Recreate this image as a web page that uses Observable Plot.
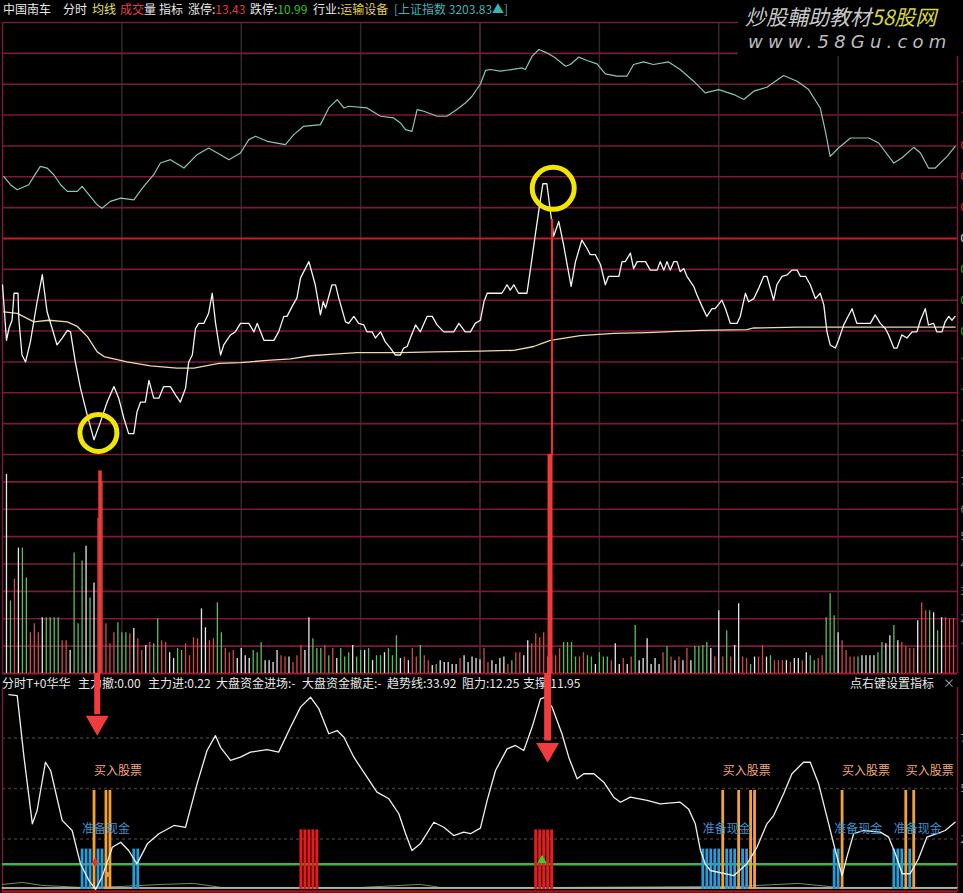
<!DOCTYPE html>
<html><head><meta charset="utf-8">
<script src="https://cdn.jsdelivr.net/npm/d3@7"></script>
<script src="https://cdn.jsdelivr.net/npm/@observablehq/plot@0.6"></script>
<style>
html,body{margin:0;padding:0;background:#000;overflow:hidden;}
#root{position:relative;width:963px;height:893px;background:#000;overflow:hidden;font-family:"Noto Sans CJK SC","Noto Sans",sans-serif;}
.abs{position:absolute;}
.hd{position:absolute;top:1px;font-size:12px;line-height:16px;white-space:pre;color:#e8e8e8;}
.ih{position:absolute;top:675px;font-size:12px;line-height:16px;white-space:pre;color:#e8e8e8;}
#wm{position:absolute;left:738px;top:0;width:225px;height:56px;background:#000;z-index:20;}
#wm1{position:absolute;left:7px;top:3px;font-size:21px;line-height:26px;font-style:italic;color:#c8c8c8;white-space:pre;}
#wm2{position:absolute;left:10px;top:31px;font-size:18px;line-height:22px;font-style:italic;color:#bcbcbc;letter-spacing:5.2px;white-space:pre;font-family:"DejaVu Sans",sans-serif;}
</style></head>
<body><div id="root">
<div class="hd" style="left:3px">中国南车</div>
<div class="hd" style="left:63px">分时</div>
<div class="hd" style="left:92px;color:#e6e070">均线</div>
<div class="hd" style="left:120px"><span style="color:#e04040">成交</span>量</div>
<div class="hd" style="left:159px">指标</div>
<div class="hd" style="left:188px">涨停:<span style="color:#e03a3a">13.43</span></div>
<div class="hd" style="left:250px">跌停:<span style="color:#30c030">10.99</span></div>
<div class="hd" style="left:313px">行业:<span style="color:#e0d040">运输设备</span></div>
<div class="hd" style="left:394px;color:#3cb4b4">[上证指数 3203.83▲]</div>
<div class="ih" style="left:2px">分时T+0华华</div>
<div class="ih" style="left:78px">主力撤:0.00</div>
<div class="ih" style="left:148px">主力进:0.22</div>
<div class="ih" style="left:216px">大盘资金进场:-</div>
<div class="ih" style="left:302px">大盘资金撤走:-</div>
<div class="ih" style="left:387px">趋势线:33.92</div>
<div class="ih" style="left:462px">阻力:12.25</div>
<div class="ih" style="left:523px">支撑:11.95</div>
<div class="ih" style="left:850px">点右键设置指标</div>
<div class="ih" style="left:943px;color:#aaa">×</div>
<div id="wm"><div id="wm1">炒股輔助教材<span style="color:#d6d640">58股网</span></div><div id="wm2">www.58Gu.com</div></div>
</div>
<script>
// ---------- data ----------
const preClose = 12.21;
const priceTicks = [12.49,12.45,12.41,12.37,12.33,12.29,12.25,12.21,12.17,12.13,12.09,12.05,12.01,11.97,11.93];
const pctLabels = ["2.29%","1.97%","1.64%","1.31%","0.98%","0.66%","0.33%","0.00%","0.33%","0.66%","0.98%","1.31%","1.64%","1.97%","2.29%"];
const timeGrid = [30,60,90,150,180,210];
const timeMid = [120];
const priceLine = [[0,12.150],[1,12.078],[1.6,12.093],[2.4,12.104],[2.9,12.139],[3.9,12.139],[4.1,12.106],[4.9,12.059],[5.8,12.050],[7.0,12.076],[8.7,12.128],[10.0,12.163],[11.2,12.115],[12.5,12.093],[13.7,12.072],[15.0,12.081],[16.3,12.091],[17.1,12.089],[18.3,12.050],[19.6,12.016],[21.3,11.981],[23.0,11.949],[24.6,11.972],[26.3,11.998],[28.0,12.018],[29.2,12.003],[30.5,11.977],[31.7,11.957],[33.0,11.957],[33.8,11.985],[34.7,11.998],[35.9,11.998],[36.8,12.026],[38.0,12.003],[39.3,12.003],[40.5,12.018],[42.2,12.018],[43.5,12.007],[44.7,11.998],[46.0,12.016],[46.8,12.050],[47.7,12.059],[48.5,12.093],[49.3,12.100],[50.6,12.100],[51.8,12.113],[52.7,12.139],[53.5,12.102],[54.8,12.059],[55.6,12.072],[57.3,12.085],[58.5,12.089],[59.8,12.100],[61.9,12.100],[63.2,12.089],[64.0,12.100],[65.7,12.078],[68.2,12.078],[69.4,12.089],[70.7,12.109],[71.5,12.109],[72.8,12.122],[74.0,12.133],[74.9,12.159],[77.0,12.180],[78.6,12.150],[79.9,12.111],[80.6,12.128],[81.2,12.120],[82.8,12.150],[83.7,12.150],[84.5,12.133],[86.2,12.102],[87.0,12.100],[88.3,12.109],[89.5,12.100],[90.8,12.098],[91.6,12.089],[92.9,12.089],[93.7,12.081],[95.0,12.089],[96.2,12.076],[97.5,12.068],[98.7,12.059],[100.0,12.059],[100.8,12.068],[101.7,12.070],[102.5,12.081],[103.8,12.098],[105.0,12.089],[106.7,12.109],[108.0,12.109],[109.2,12.098],[110.9,12.089],[113.4,12.089],[114.7,12.100],[116.3,12.089],[117.6,12.089],[118.8,12.100],[120.1,12.104],
[121.0,12.128],[121.8,12.139],[125.5,12.139],[126.8,12.150],[127.6,12.143],[128.5,12.150],[129.7,12.139],[131.8,12.139],[132.7,12.171],[133.9,12.215],[135.0,12.254],[135.8,12.281],[136.8,12.281],[137.7,12.245],[138.5,12.213],[139.8,12.232],[141.0,12.202],[141.9,12.176],[142.9,12.148],[144.0,12.180],[145.6,12.208],[146.9,12.197],[147.7,12.189],[149.0,12.189],[150.3,12.176],[151.5,12.150],[152.3,12.161],[154.9,12.161],[155.7,12.180],[156.5,12.180],[157.8,12.191],[158.6,12.171],[159.5,12.180],[161.6,12.180],[162.8,12.169],[164.5,12.169],[165.3,12.180],[166.2,12.169],[167.0,12.180],[167.8,12.169],[168.7,12.180],[169.5,12.180],[170.3,12.167],[171.2,12.171],[172.0,12.161],[173.7,12.148],[174.5,12.137],[175.8,12.122],[177.0,12.109],[178.3,12.119],[179.1,12.119],[180.8,12.130],[181.7,12.119],[182.9,12.100],[184.6,12.100],[185.4,12.109],[186.7,12.139],[187.5,12.128],[188.8,12.132],[190.0,12.145],[191.3,12.161],[192.1,12.161],[193.8,12.130],[194.6,12.150],[195.9,12.161],[197.2,12.163],[198.4,12.169],[199.7,12.169],[200.5,12.161],[201.8,12.161],[203.0,12.150],[204.3,12.132],[205.5,12.139],[206.4,12.124],[207.2,12.089],[208.0,12.072],[209.3,12.068],[210.1,12.078],[211.4,12.098],[213.5,12.119],[214.7,12.100],[218.1,12.100],[219.3,12.111],[220.6,12.100],[221.9,12.093],[222.7,12.085],[224.0,12.068],[224.8,12.068],[226.0,12.085],[227.3,12.081],[228.6,12.089],[229.8,12.089],[230.7,12.104],[231.9,12.119],[232.7,12.098],[234.0,12.100],[234.8,12.089],[236.1,12.089],[236.9,12.102],[237.8,12.109],[238.6,12.104],[239.4,12.109]];
const avgLine = [[0.3,12.115],[3.7,12.113],[7.9,12.102],[11.6,12.104],[16.3,12.102],[18.8,12.096],[21.3,12.083],[23.8,12.063],[25.5,12.057],[31.3,12.050],[37.2,12.045],[43.9,12.042],[48.1,12.042],[54.4,12.048],[59.8,12.049],[66.5,12.052],[72.4,12.054],[77.4,12.058],[83.3,12.060],[89.1,12.062],[100.0,12.062],[108.4,12.063],[120.1,12.064],[128.5,12.065],[133.5,12.070],[135.6,12.074],[137.7,12.078],[145.2,12.084],[153.6,12.087],[162.0,12.088],[175.4,12.091],[187.1,12.092],[188.8,12.094],[199.7,12.095],[212.2,12.095],[239.4,12.095]];
const indexPct = [[0.3,0.659],[2.0,0.571],[3.7,0.518],[6.6,0.571],[7.9,0.659],[9.5,0.766],[11.2,0.748],[12.9,0.677],[14.6,0.571],[16.3,0.500],[18.8,0.500],[20.0,0.553],[21.7,0.465],[23.8,0.358],[25.0,0.322],[27.1,0.394],[29.7,0.429],[33.0,0.411],[35.5,0.553],[38.0,0.677],[39.7,0.801],[42.2,0.837],[45.6,0.748],[48.9,0.890],[51.8,0.961],[54.0,0.908],[56.9,0.837],[59.8,0.908],[61.9,1.050],[63.6,1.085],[66.5,1.032],[71.1,0.997],[73.2,1.103],[75.7,1.191],[79.9,1.209],[82.0,1.386],[84.1,1.475],[85.8,1.386],[87.0,1.404],[91.6,1.386],[95.0,1.298],[98.3,1.280],[100.0,1.227],[101.3,1.156],[102.9,1.138],[104.2,1.369],[105.9,1.351],[109.2,1.298],[111.7,1.298],[114.2,1.369],[116.3,1.439],[118.0,1.510],[120.1,1.640],[121.4,1.784],[122.6,1.794],[125.1,1.776],[130.6,1.811],[131.4,1.794],[133.1,1.936],[134.8,2.007],[136.8,1.971],[138.9,1.918],[141.5,1.829],[142.7,1.847],[144.8,1.925],[146.9,1.890],[149.4,1.854],[151.5,1.748],[154.4,1.723],[156.9,1.723],[158.6,1.847],[161.1,1.875],[163.6,1.847],[167.4,1.875],[170.3,1.794],[173.7,1.670],[176.6,1.546],[180.0,1.581],[183.8,1.528],[186.3,1.475],[188.8,1.564],[192.1,1.606],[196.3,1.730],[199.7,1.670],[202.6,1.581],[205.5,1.386],[206.8,1.138],[208.0,0.872],[210.1,0.961],[213.1,1.067],[217.7,1.067],[220.2,1.014],[224.0,0.801],[226.0,0.854],[229.0,0.968],[230.7,0.908],[232.7,0.748],[234.4,0.748],[237.4,0.872],[239.4,0.978]];
const volume = [7270,2650,3450,4580,4580,3490,1490,1820,1490,2040,2040,2040,2040,2040,1200,1200,840,4400,1820,4110,4650,2760,3310,5670,7020,1820,1090,1490,1850,1490,1490,1450,1640,1270,840,1020,1130,1090,2000,1200,1130,760,545,910,840,1090,650,1310,1270,2360,1670,1200,1270,2580,1490,910,760,840,545,910,650,545,840,760,1130,470,470,400,840,650,600,600,400,650,1020,840,2040,1270,910,910,1020,650,910,545,910,600,760,1020,600,840,840,910,470,650,650,760,910,650,1380,545,600,470,910,600,1020,650,470,290,330,470,400,400,330,330,545,650,400,600,545,
500,
910,400,470,330,545,600,330,470,760,760,650,1200,1090,1450,1310,1490,600,600,650,910,1130,1130,1130,600,600,760,650,600,330,760,600,600,470,1090,330,545,330,600,1750,470,545,1270,330,545,330,760,990,600,470,600,470,910,470,990,990,1020,1130,910,600,2290,600,1560,600,1020,2550,600,545,330,600,600,1020,600,650,470,470,470,470,400,545,545,470,760,650,470,545,650,2040,2910,2110,1490,1200,840,600,600,600,650,650,650,650,760,1130,1090,1380,1750,1200,1130,990,910,910,1930,2580,2290,2290,2220,1560,2040,2040,2000,2000];
const volDir = ("wgrwggrrrw"+"ggggrrwggg"+"wgwrrrrrgg"+"grwrrwrggr"+"rwwggrrrrw"+"wrrggrrrww"+"wwgggwwwwr"+"rwrrrwwggg"+"rgrwgggwgg"+"wgwggwgggw"+"rwrrgrrwgw"+"wwwwrwwww"+
  "w"+
  "rrwwwwrgrr"+"wwrrrrrrrr"+"ggggrrggwg"+"ggrwwrwrgw"+"wwwwwrgrwr"+"wrwggggwrw"+"rgrwwrrgwr"+"rwgrrrwrww"+"rwggrrgggw"+"rrrrgwwwwg"+"gwwgwrrrrw"+"rrgwgwrrr").split("");
const volTicks = [1000,2000,3000,4000,5000,6000,7000];
const volLabels = ["1000","2000","3000","4000","5000","6000","7000"];
const trendLine = [[1.6,96.5],[3.7,96.0],[5.4,65.5],[7.5,32.5],[8.7,39.1],[10.8,63.0],[12.1,58.9],[15.0,34.2],[17.5,29.2],[19.6,12.7],[21.7,4.5],[23.4,0],[25.0,6.1],[27.6,20.9],[29.7,23.4],[31.7,19.3],[33.8,12.7],[36.4,22.6],[39.3,27.6],[43.1,31.7],[46.0,30.8],[48.9,52.3],[51.4,68.8],[53.5,76.2],[54.8,70.4],[57.3,63.9],[59.8,65.5],[62.3,68.0],[66.5,69.2],[69.4,68.0],[72.4,80.4],[74.9,90.3],[77.4,95.2],[79.5,89.5],[82.0,77.1],[84.1,78.7],[85.8,75.4],[88.3,65.5],[91.6,55.6],[94.1,48.2],[97.1,44.9],[99.6,37.5],[101.3,27.6],[102.9,19.3],[105.0,22.6],[108.4,33.3],[110.9,30.8],[113.4,26.7],[115.9,28.4],[117.6,27.6],[120.1,30.4],[121.8,44.1],[123.9,58.9],[126.8,69.6],[128.9,71.3],[131.0,68.8],[133.1,80.4],[135.2,94.4],[136.4,95.2],[138.1,90.3],[140.6,77.1],[142.3,65.5],[144.4,54.8],[146.1,57.3],[148.6,57.3],[151.1,53.1],[153.6,45.7],[155.3,43.2],[157.8,45.7],[162.0,44.1],[165.3,42.4],[170.3,43.2],[172.4,39.9],[174.1,32.5],[175.4,19.3],[176.6,12.7],[177.9,9.4],[183.8,6.9],[187.1,12.7],[189.6,20.9],[192.1,32.5],[193.8,36.6],[196.3,47.4],[198.4,57.3],[201.3,63.0],[203.0,63.0],[205.1,52.3],[207.2,35.8],[209.3,19.3],[211.0,6.9],[212.2,16.0],[213.9,27.6],[216.4,29.2],[220.6,28.4],[222.7,25.9],[224.4,17.6],[226.1,7.8],[228.1,7.8],[230.2,15.2],[232.3,25.9],[234.8,27.6],[236.9,29.2],[239.4,33.3]];
const mainInLine = [[0,2.5],[5,3.5],[10,2],[20,1],[30,1.5],[40,2.5],[48,3],[55,1],[70,1],[90,1],[105,2.5],[110,1],[140,1],[185,1.5],[200,3],[210,1],[240,1]];
const indTicks = [25,50,75];
const indLabels = ["25.00","50.00","75.00"];
const greenLevel = [12.5];
const blueBars = [20,21,22,24,25,33,34,176,177,178,179,180,182,183,184,186,187,209,210,224,225,226,228];
const orangeBars = [23,26,27,181,185,188,189,211,227,229];
const redBars = [75,76,77,78,79,134,135,136,137,138];
const buyTimes = [23,181,211,227];
const cashTimes = [20,176,209,224];
const circles = [[24.1,11.958],[138.4,12.275]];
const arrowTimes = [[24.9,24.5,23.8],[138.1,137.6,137.0]];

// ---------- helpers ----------
const root = document.getElementById("root");
function place(svg, top, z){ const d=document.createElement("div"); d.className="abs"; d.style.left="0px"; d.style.top=top+"px"; d.style.zIndex=z; d.appendChild(svg); root.appendChild(d); }
const X = {domain:[0,240], axis:null};
const common = {width:963, marginLeft:2, marginRight:6, style:{background:"transparent", color:"#ddd"}};
const gridRed = "#7a1a36";
const FF = "Noto Sans CJK SC, Noto Sans, sans-serif";
const downTri = {draw(ctx, size){ const y=Math.sqrt(size/(Math.sqrt(3)*3)); ctx.moveTo(0,2*y); ctx.lineTo(-Math.sqrt(3)*y,-y); ctx.lineTo(Math.sqrt(3)*y,-y); ctx.closePath(); }};
const tick = priceTicks.map((p,i)=>({p, label:pctLabels[i]}));

// ---------- price panel ----------
const pricePlot = Plot.plot({...common, height:436, marginTop:2, marginBottom:2, x:X, y:{domain:[11.93,12.49], axis:null},
  marks:[
    Plot.ruleX(timeGrid, {stroke:"#34272b", strokeWidth:1.5}),
    Plot.ruleX(timeMid, {stroke:"#553038", strokeWidth:1.5}),
    Plot.ruleY(priceTicks.filter(p=>p!==preClose), {stroke:gridRed, strokeWidth:1.6}),
    Plot.ruleY([preClose], {stroke:"#c21f24", strokeWidth:2}),
    Plot.ruleX([0,240], {stroke:gridRed, strokeWidth:1.5}),
    Plot.line(indexPct, {x:d=>d[0], y:d=>preClose*(1+d[1]/100), stroke:"#86c8b0", strokeWidth:1.2}),
    Plot.line(avgLine, {x:d=>d[0], y:d=>d[1], stroke:"#ecdca0", strokeWidth:1.3}),
    Plot.line(priceLine, {x:d=>d[0], y:d=>d[1], stroke:"#f4f4f4", strokeWidth:1.3}),
    Plot.ruleX([arrowTimes[1][0]], {x:d=>d, y1:()=>12.235, y2:()=>11.93, stroke:"#e43030", strokeWidth:2.2}),
    Plot.dot([circles[0]], {x:d=>d[0], y:d=>d[1], r:18.5, stroke:"#f2e600", strokeWidth:5, fill:"none"}),
    Plot.dot([circles[1]], {x:d=>d[0], y:d=>d[1], r:21, stroke:"#f2e600", strokeWidth:5, fill:"none"}),
    Plot.text(tick.filter(d=>d.p>preClose), {x:()=>240, y:"p", text:"label", dx:3, textAnchor:"start", fill:"#e03a3a", fontSize:11}),
    Plot.text(tick.filter(d=>d.p===preClose), {x:()=>240, y:"p", text:"label", dx:3, textAnchor:"start", fill:"#e8e8e8", fontSize:11}),
    Plot.text(tick.filter(d=>d.p<preClose), {x:()=>240, y:"p", text:"label", dx:3, textAnchor:"start", fill:"#30c030", fontSize:11})
  ]});
place(pricePlot, 20, 1);

// ---------- volume panel ----------
const volData = volume.map((v,i)=>({t:i+1, v, dir:volDir[i]}));
const volPlot = Plot.plot({...common, height:223, marginTop:2, marginBottom:2, x:X, y:{domain:[0,8000], axis:null},
  marks:[
    Plot.ruleX(timeGrid, {stroke:"#34272b", strokeWidth:1.5}),
    Plot.ruleX(timeMid, {stroke:"#553038", strokeWidth:1.5}),
    Plot.ruleY(volTicks, {stroke:gridRed, strokeWidth:1.6}),
    Plot.ruleY([0], {stroke:"#9a1a30", strokeWidth:2}),
    Plot.ruleX([0,240], {stroke:gridRed, strokeWidth:1.5}),
    Plot.ruleX(volData.filter(d=>d.dir==="r"), {x:"t", y1:()=>0, y2:"v", stroke:"#d44a4a", strokeWidth:1.3}),
    Plot.ruleX(volData.filter(d=>d.dir==="g"), {x:"t", y1:()=>0, y2:"v", stroke:"#58c058", strokeWidth:1.3}),
    Plot.ruleX(volData.filter(d=>d.dir==="w"), {x:"t", y1:()=>0, y2:"v", stroke:"#e8e8e8", strokeWidth:1.3}),
    Plot.ruleX([arrowTimes[0][1]], {x:d=>d, y1:()=>7400, y2:()=>0, stroke:"#f03a3a", strokeWidth:3.5}),
    Plot.ruleX([arrowTimes[1][1]], {x:d=>d, y1:()=>8000, y2:()=>0, stroke:"#f03a3a", strokeWidth:5}),
    Plot.text(volTicks, {x:()=>240, y:d=>d, text:(d,i)=>volLabels[i], dx:3, textAnchor:"start", fill:"#8a8a8a", fontSize:11})
  ]});
place(volPlot, 452, 2);

// ---------- indicator panel ----------
const indPlot = Plot.plot({...common, height:220, marginTop:14, marginBottom:2, x:X, y:{domain:[-1,100], axis:null},
  marks:[
    Plot.ruleY(indTicks, {stroke:"#3a3a3a", strokeWidth:1.5, strokeDasharray:"3,3"}),
    Plot.ruleX([0,240], {x:d=>d, y1:()=>-1, y2:()=>100, stroke:gridRed, strokeWidth:1.5}),
    Plot.ruleY([-1], {stroke:"#a01818", strokeWidth:2.5}),
    Plot.ruleY([0.7], {stroke:"#dcdcdc", strokeWidth:1.5}),
    Plot.line(mainInLine, {x:d=>d[0], y:d=>d[1], stroke:"#9ccf8c", strokeWidth:1, strokeOpacity:0.7}),
    Plot.ruleY(greenLevel, {stroke:"#46b04a", strokeWidth:2.5}),
    Plot.ruleX(blueBars, {x:d=>d, y1:()=>0, y2:()=>20, stroke:"#2b9ad6", strokeWidth:2.8}),
    Plot.ruleX(redBars, {x:d=>d, y1:()=>0, y2:()=>29.5, stroke:"#e41c1c", strokeWidth:3}),
    Plot.ruleX(orangeBars, {x:d=>d, y1:()=>0, y2:()=>49, stroke:"#f2a236", strokeWidth:2.8}),
    Plot.line(trendLine, {x:d=>d[0], y:d=>d[1], stroke:"#f0f0f0", strokeWidth:1.3}),
    Plot.dot([[23.3,13.4]], {x:d=>d[0], y:d=>d[1], r:3, symbol:"diamond", fill:"#e83030"}),
    Plot.dot([[26.4,7.4]], {x:d=>d[0], y:d=>d[1], r:2.5, fill:"#f09a40"}),
    Plot.dot([[135.6,14.5]], {x:d=>d[0], y:d=>d[1], r:3.5, symbol:"triangle", fill:"#30d030"}),
    Plot.text(buyTimes, {x:d=>d, y:()=>58.5, text:()=>"买入股票", textAnchor:"start", fill:"#f2a67a", fontSize:12, fontFamily:FF}),
    Plot.text(cashTimes, {x:d=>d, y:()=>29.7, text:()=>"准备现金", textAnchor:"start", fill:"#3c92d2", fontSize:12, fontFamily:FF}),
    Plot.ruleX([arrowTimes[0][2]], {x:d=>d, y1:()=>107, y2:()=>86.5, stroke:"#f03c3c", strokeWidth:6}),
    Plot.ruleX([arrowTimes[1][2]], {x:d=>d, y1:()=>107, y2:()=>73.5, stroke:"#f03c3c", strokeWidth:7}),
    Plot.dot([[arrowTimes[0][2],82.7],[arrowTimes[1][2],69.3]], {x:d=>d[0], y:d=>d[1], r:8.5, symbol:downTri, fill:"#f03c3c"}),
    Plot.text(indTicks, {x:()=>240, y:d=>d, text:(d,i)=>indLabels[i], dx:3, textAnchor:"start", fill:"#9a9a9a", fontSize:11})
  ]});
place(indPlot, 673, 5);
</script>
</body></html>
